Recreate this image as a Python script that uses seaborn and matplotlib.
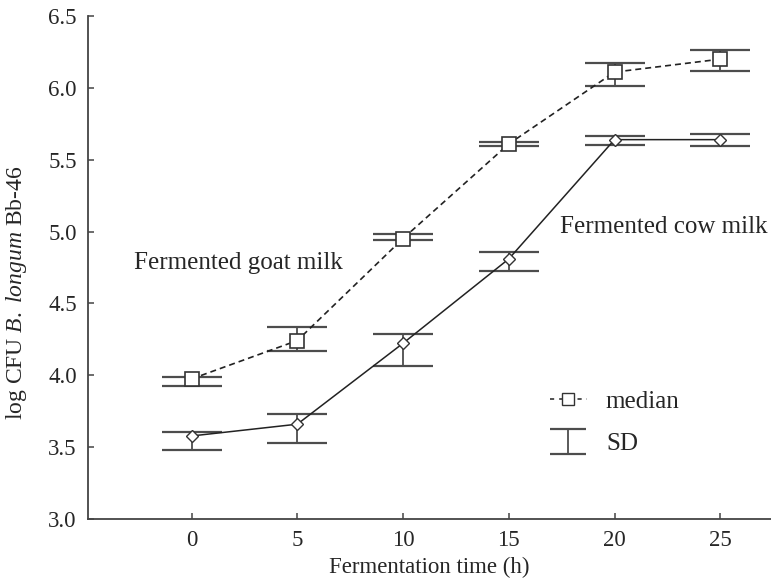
import numpy as np
import matplotlib
matplotlib.use('Agg')
import matplotlib.pyplot as plt
import seaborn as sns
from matplotlib.lines import Line2D
from matplotlib.collections import LineCollection
from matplotlib.container import ErrorbarContainer

# fermentation times (h)
time_h = [0, 5, 10, 15, 20, 25]

# goat milk: median and SD bar ends (log CFU)
goat_median = [3.975, 4.242, 4.952, 5.610, 6.110, 6.200]
goat_upper = [3.990, 4.335, 4.983, 5.627, 6.173, 6.261]
goat_lower = [3.926, 4.172, 4.939, 5.593, 6.015, 6.117]

# cow milk: median and SD bar ends (log CFU)
cow_median = [3.578, 3.660, 4.223, 4.810, 5.640, 5.640]
cow_upper = [3.608, 3.729, 4.286, 4.857, 5.662, 5.676]
cow_lower = [3.480, 3.531, 4.065, 4.727, 5.604, 5.593]

y_ticks = [3.0, 3.5, 4.0, 4.5, 5.0, 5.5, 6.0, 6.5]
x_ticks = [0, 5, 10, 15, 20, 25]

sns.set_style('ticks')
plt.rcParams['font.family'] = ['Liberation Serif', 'DejaVu Serif']
plt.rcParams['mathtext.fontset'] = 'custom'
plt.rcParams['mathtext.rm'] = 'Liberation Serif'
plt.rcParams['mathtext.it'] = 'Liberation Serif:italic'

axis_col = '#444444'
bar_col = '#4d4d4d'

fig = plt.figure(figsize=(7.71, 5.88), dpi=100)
ax = fig.add_axes([0.1141, 0.1173, 0.8859, 0.8554])

# SD bars (asymmetric)
for med, up, lo in [(goat_median, goat_upper, goat_lower),
                    (cow_median, cow_upper, cow_lower)]:
    med = np.array(med)
    yerr = [med - np.array(lo), np.array(up) - med]
    ax.errorbar(time_h, med, yerr=yerr, fmt='none', ecolor=bar_col,
                elinewidth=1.3, capsize=21.6, capthick=1.6, zorder=2)

# median lines
sns.lineplot(x=time_h, y=goat_median, ax=ax, color='#222222', lw=1.2,
             marker='s', markersize=9.5, markerfacecolor='white',
             markeredgecolor='#333333', markeredgewidth=1.2, zorder=3)
ax.lines[-1].set_dashes([3.6, 2.4])
sns.lineplot(x=time_h, y=cow_median, ax=ax, color='#222222', lw=1.1,
             marker='D', markersize=6, markerfacecolor='white',
             markeredgecolor='#333333', markeredgewidth=1.0, zorder=3)

ax.set_xlim(-4.9, 27.4)
ax.set_ylim(3.0, 6.5)
ax.set_xticks(x_ticks)
ax.set_yticks(y_ticks)
ax.set_yticklabels([f'{v:.1f}' for v in y_ticks])

sns.despine(ax=ax)
for s in ['left', 'bottom']:
    ax.spines[s].set_color(axis_col)
    ax.spines[s].set_linewidth(1.3)
ax.tick_params(direction='in', length=4, width=1.1, color=axis_col,
               labelsize=16.5, pad=8)

ax.set_xlabel('Fermentation time (h)', fontsize=16.5)
ax.set_ylabel(r'log CFU $\mathit{B.\ longum}$ Bb-46', fontsize=17)
ax.yaxis.set_label_coords(-0.087, 0.45)

ax.text(-2.7, 4.78, 'Fermented goat milk', fontsize=18, va='center', ha='left')
ax.text(17.4, 5.03, 'Fermented cow milk', fontsize=18, va='center', ha='left')

# legend
med_handle = Line2D([], [], color='#333333', lw=1.2, ls=(0, (2.5, 3)),
                    marker='s', markersize=8, markerfacecolor='white',
                    markeredgecolor='#333333')
cap_proxy = Line2D([], [], color=bar_col, ls='none', marker='_',
                   markersize=26, markeredgewidth=1.6)
bar_proxy = LineCollection([], colors=bar_col, linewidths=1.3)
sd_handle = ErrorbarContainer((None, (cap_proxy, cap_proxy), (bar_proxy,)),
                              has_xerr=False, has_yerr=True)
ax.legend([med_handle, sd_handle], ['median', 'SD'], loc='upper left',
          bbox_to_anchor=(0.676, 0.256), frameon=False, fontsize=18,
          handlelength=1.5, handletextpad=0.75, labelspacing=0.8,
          borderpad=0, borderaxespad=0)

fig.savefig('out.png', dpi=100)
